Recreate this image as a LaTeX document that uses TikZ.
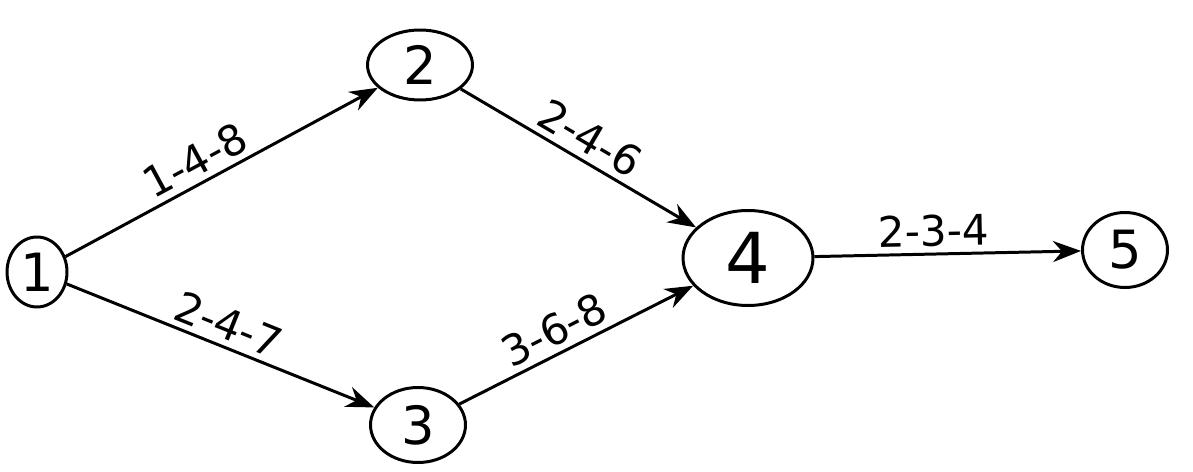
\documentclass[tikz,border=0pt]{standalone}
\usepackage{fontspec}
\setmainfont{DejaVu Sans}
\usetikzlibrary{shapes.geometric,arrows.meta}
\begin{document}
\begin{tikzpicture}[x=0.02cm,y=-0.02cm,
  ev/.style={draw,ellipse,line width=1.7pt,inner sep=0pt,font=\fontsize{30}{30}\selectfont},
  act/.style={line width=1.7pt,-{Stealth[length=16pt,width=12pt]}},
  lab/.style={font=\fontsize{24}{24}\selectfont,sloped,above}]
\useasboundingbox (0,0) rectangle (1193,472);
\node[ev,minimum width=1.2cm,minimum height=1.4cm] (n1) at (37,272) {1};
\node[ev,minimum width=2.1cm,minimum height=1.4cm] (n2) at (420,65) {2};
\node[ev,minimum width=1.9cm,minimum height=1.5cm] (n3) at (418,425) {3};
\node[ev,minimum width=2.6cm,minimum height=1.9cm,font=\fontsize{40}{40}\selectfont] (n4) at (748,258) {4};
\node[ev,minimum width=1.7cm,minimum height=1.5cm] (n5) at (1125,250) {5};
\draw[act] (n1) -- node[lab,pos=0.45] {1-4-8} (n2);
\draw[act] (n2) -- node[lab,pos=0.5] {2-4-6} (n4);
\draw[act] (n1) -- node[lab,pos=0.5] {2-4-7} (n3);
\draw[act] (n3) -- node[lab,pos=0.45] {3-6-8} (n4);
\draw[act] (n4) -- node[lab,pos=0.45] {2-3-4} (n5);
\end{tikzpicture}
\end{document}
